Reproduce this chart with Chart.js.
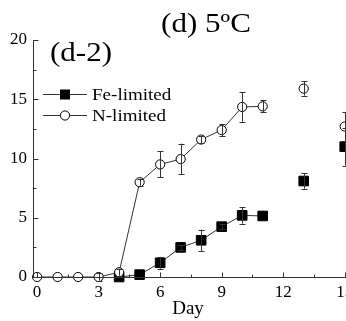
<!DOCTYPE html>
<html>
<head>
<meta charset="utf-8">
<script src="https://cdn.jsdelivr.net/npm/chart.js@4.4.0/dist/chart.umd.min.js"></script>
<style>
  html, body { margin: 0; padding: 0; overflow: hidden; background: #fff; }
  canvas { display: block; }
</style>
</head>
<body>
<canvas id="myChart" width="380" height="321"></canvas>
<script>
// values
var days_N = [0, 1, 2, 3, 4, 5, 6, 7, 8, 9, 10, 11, 13, 15];
var vals_N = [0, 0, 0, 0, 0.4, 8.0, 9.5, 9.95, 11.6, 12.4, 14.35, 14.4, 15.9, 12.7];
var err_N = [0, 0, 0, 0.3, 0.3, 0.3, 1.1, 1.3, 0.3, 0.5, 1.25, 0.5, 0.6, 1.2];

var days_Fe = [4, 5, 6, 7, 8, 9, 10, 11, 13, 15];
var vals_Fe = [0, 0.2, 1.2, 2.5, 3.1, 4.25, 5.2, 5.15, 8.1, 11.0];
var err_Fe = [0, 0, 0.5, 0.2, 0.9, 0.2, 0.7, 0, 0.65, 1.6];

var xTicks = [0, 3, 6, 9, 12, 15];
var yTicks = [0, 5, 10, 15, 20];
var lastJoinedDay = 11; // later days are not joined by the line

var titleText = "(d) 5ºC";
var panelText = "(d-2)";
var xTitle = "Day";

var SERIF = "'Liberation Serif', 'Times New Roman', serif";
var LINE = "#333";

function toPoints(xs, ys) {
  var pts = [];
  for (var i = 0; i < xs.length; i++) pts.push({ x: xs[i], y: ys[i] });
  return pts;
}

// text drawn a bit wider than normal, like the original figure
function wideText(ctx, text, x, y, size, sx, align) {
  ctx.save();
  ctx.font = size + "px " + SERIF;
  ctx.fillStyle = "#000";
  ctx.textAlign = align || "left";
  ctx.textBaseline = "alphabetic";
  ctx.translate(x, y);
  ctx.scale(sx, 1);
  ctx.fillText(text, 0, 0);
  ctx.restore();
}

var errorBars = {
  id: "errorBars",
  afterDatasetsDraw: function (chart) {
    var ctx = chart.ctx;
    var xs = chart.scales.x, ys = chart.scales.y;
    ctx.save();
    ctx.strokeStyle = LINE;
    ctx.lineWidth = 1;
    chart.data.datasets.forEach(function (ds) {
      ds.data.forEach(function (p, i) {
        var e = ds.errors[i];
        if (!e) return;
        var px = Math.round(xs.getPixelForValue(p.x)) + 0.5;
        var top = ys.getPixelForValue(p.y + e);
        var bot = ys.getPixelForValue(p.y - e);
        ctx.beginPath();
        ctx.moveTo(px, top);
        ctx.lineTo(px, bot);
        ctx.moveTo(px - 3, Math.round(top) + 0.5);
        ctx.lineTo(px + 3, Math.round(top) + 0.5);
        ctx.moveTo(px - 3, Math.round(bot) + 0.5);
        ctx.lineTo(px + 3, Math.round(bot) + 0.5);
        ctx.stroke();
      });
    });
    ctx.restore();
  }
};

var innerTicks = {
  id: "innerTicks",
  afterDraw: function (chart) {
    var ctx = chart.ctx;
    var xs = chart.scales.x, ys = chart.scales.y;
    var area = chart.chartArea;
    ctx.save();
    ctx.strokeStyle = LINE;
    ctx.lineWidth = 1;
    ctx.beginPath();
    // axis lines
    var bx = Math.round(area.left) + 0.5, by = Math.round(area.bottom) + 0.5;
    ctx.moveTo(bx, area.top);
    ctx.lineTo(bx, by);
    ctx.lineTo(area.right, by);
    for (var i = 0; i < xTicks.length; i++) {
      var px = Math.round(xs.getPixelForValue(xTicks[i])) + 0.5;
      ctx.moveTo(px, by);
      ctx.lineTo(px, by - 5);
      var mx = Math.round(xs.getPixelForValue(xTicks[i] + 1.5)) + 0.5;
      ctx.moveTo(mx, by);
      ctx.lineTo(mx, by - 3);
    }
    for (var j = 0; j < yTicks.length; j++) {
      var py = Math.round(ys.getPixelForValue(yTicks[j])) + 0.5;
      ctx.moveTo(bx, py);
      ctx.lineTo(bx + 5, py);
      if (j < yTicks.length - 1) {
        var my = Math.round(ys.getPixelForValue(yTicks[j] + 2.5)) + 0.5;
        ctx.moveTo(bx, my);
        ctx.lineTo(bx + 3, my);
      }
    }
    ctx.stroke();
    ctx.restore();
  }
};

var labels = {
  id: "labels",
  afterDraw: function (chart) {
    var ctx = chart.ctx;
    wideText(ctx, titleText, 206, 32, 27, 1.15, "center");
    wideText(ctx, panelText, 50, 61, 27, 1.15, "left");
    wideText(ctx, xTitle, 188, 314, 19, 1.0, "center");

    // legend
    var ds = chart.data.datasets;
    var rows = [94, 115];
    ctx.save();
    ctx.strokeStyle = LINE;
    ctx.lineWidth = 1;
    for (var i = 0; i < ds.length; i++) {
      var y = rows[i] + 0.5;
      ctx.beginPath();
      ctx.moveTo(43, y);
      ctx.lineTo(87, y);
      ctx.stroke();
      ctx.beginPath();
      if (ds[i].pointStyle === "rect") {
        ctx.fillStyle = "#000";
        ctx.fillRect(60, y - 5, 10, 10);
      } else {
        ctx.fillStyle = "#fff";
        ctx.arc(65, y, 4.6, 0, Math.PI * 2);
        ctx.fill();
        ctx.strokeStyle = "#000";
        ctx.stroke();
        ctx.strokeStyle = LINE;
      }
      wideText(ctx, ds[i].label, 92, rows[i] + 6, 17, 1.12, "left");
    }
    ctx.restore();
  }
};

function noJoin(c) {
  return c.p1.parsed.x > lastJoinedDay ? "rgba(0,0,0,0)" : LINE;
}

var ctx = document.getElementById("myChart");

new Chart(ctx, {
  type: "scatter",
  data: {
    datasets: [
      {
        label: "Fe-limited",
        data: toPoints(days_Fe, vals_Fe),
        errors: err_Fe,
        order: 1,
        showLine: true,
        pointStyle: "rect",
        pointRadius: 6.8,
        pointBackgroundColor: "#000",
        pointBorderColor: "#000",
        pointBorderWidth: 1,
        borderColor: LINE,
        borderWidth: 1,
        segment: { borderColor: noJoin },
        clip: false
      },
      {
        label: "N-limited",
        data: toPoints(days_N, vals_N),
        errors: err_N,
        order: 0,
        showLine: true,
        pointStyle: "circle",
        pointRadius: 4.6,
        pointBackgroundColor: "#fff",
        pointBorderColor: "#000",
        pointBorderWidth: 1,
        borderColor: LINE,
        borderWidth: 1,
        segment: { borderColor: noJoin },
        clip: false
      }
    ]
  },
  options: {
    responsive: false,
    animation: false,
    layout: { padding: { top: 40, right: 3, left: 0, bottom: 0 } },
    plugins: {
      legend: { display: false },
      title: { display: false },
      tooltip: { enabled: false }
    },
    scales: {
      x: {
        type: "linear",
        min: -0.2,
        max: 16.34,
        afterBuildTicks: function (s) {
          s.ticks = xTicks.map(function (v) { return { value: v }; });
        },
        afterFit: function (s) { s.height = 44; },
        grid: { display: false, drawTicks: false },
        border: { display: false },
        ticks: { color: "#000", padding: 5, autoSkip: false, maxRotation: 0, font: { family: SERIF, size: 17 } }
      },
      y: {
        type: "linear",
        min: 0,
        max: 20,
        afterBuildTicks: function (s) {
          s.ticks = yTicks.map(function (v) { return { value: v }; });
        },
        afterFit: function (s) { s.width = 33; },
        grid: { display: false, drawTicks: false },
        border: { display: false },
        ticks: { color: "#000", padding: 6, font: { family: SERIF, size: 17 } }
      }
    }
  },
  plugins: [errorBars, innerTicks, labels]
});
</script>
</body>
</html>
